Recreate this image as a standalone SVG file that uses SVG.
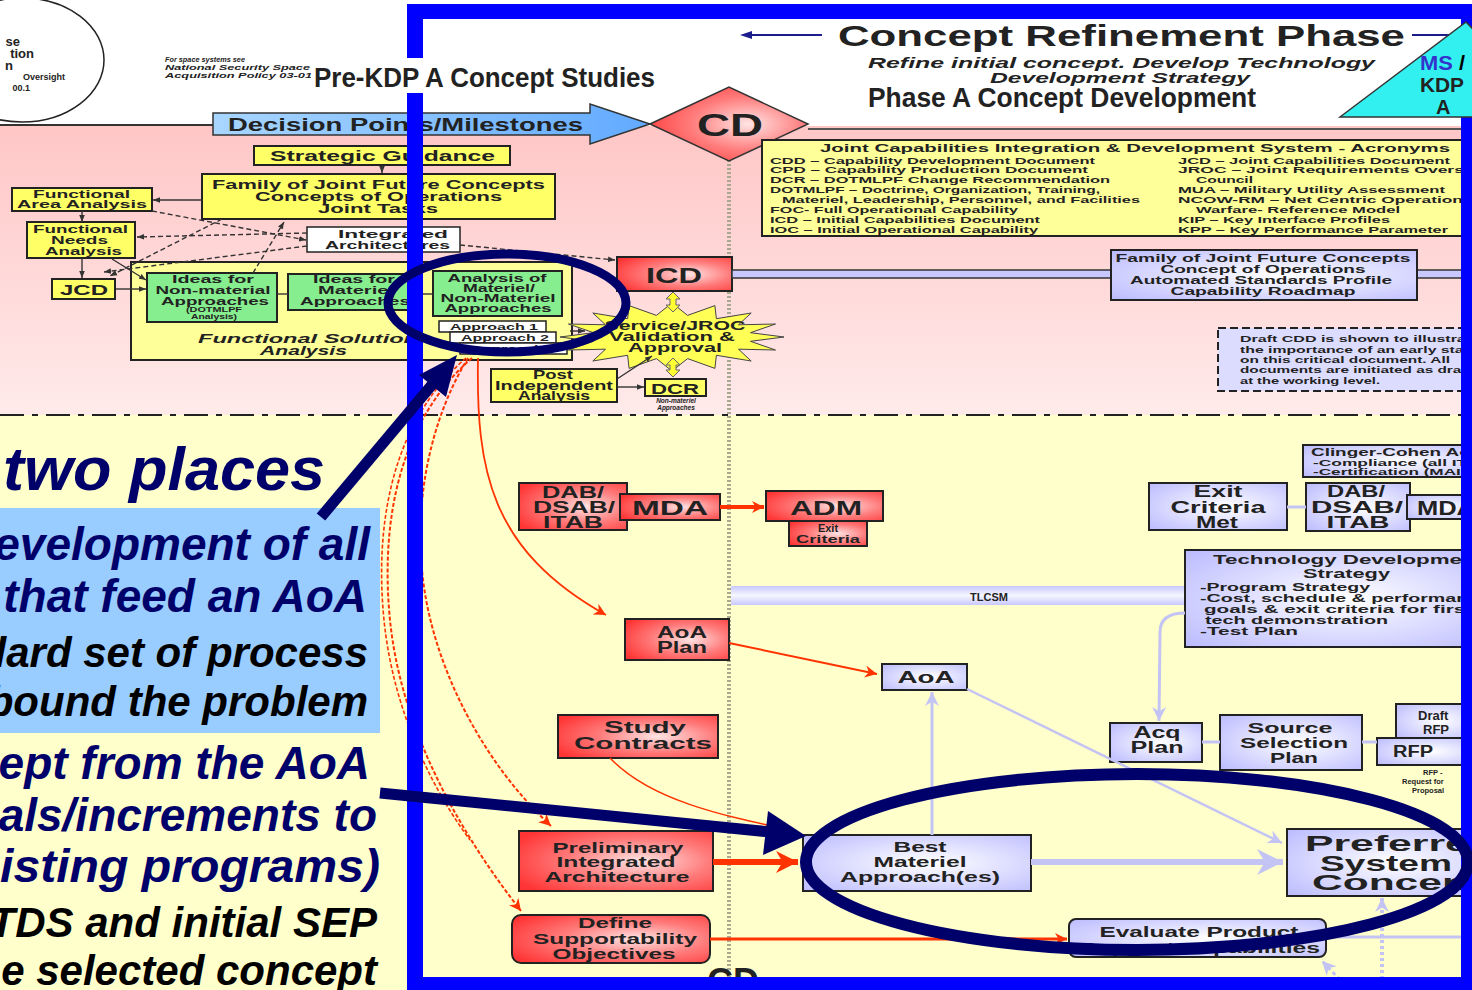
<svg xmlns="http://www.w3.org/2000/svg" width="1472" height="990" viewBox="0 0 1472 990">
<defs>
  <linearGradient id="pinkBg" x1="0" y1="0" x2="0" y2="1">
    <stop offset="0" stop-color="#ffc6c6"/>
    <stop offset="1" stop-color="#ffeaea"/>
  </linearGradient>
  <radialGradient id="redFill" cx="0.62" cy="0.5" r="0.72">
    <stop offset="0" stop-color="#ffe4e4"/>
    <stop offset="0.5" stop-color="#ff7c7c"/>
    <stop offset="1" stop-color="#ff3434"/>
  </radialGradient>
  <radialGradient id="lavFill" cx="0.55" cy="0.5" r="0.72">
    <stop offset="0" stop-color="#ffffff"/>
    <stop offset="1" stop-color="#bcbcff"/>
  </radialGradient>
  <linearGradient id="dpFill" x1="0" y1="0" x2="1" y2="0">
    <stop offset="0" stop-color="#a8d6ff"/>
    <stop offset="1" stop-color="#62aaff"/>
  </linearGradient>
  <linearGradient id="barFill" x1="0" y1="0" x2="0" y2="1">
    <stop offset="0" stop-color="#c8c8ff"/>
    <stop offset="0.5" stop-color="#f6f6ff"/>
    <stop offset="1" stop-color="#c8c8ff"/>
  </linearGradient>
  <marker id="mkBlack" viewBox="0 0 10 10" refX="10" refY="5" markerWidth="7" markerHeight="7" markerUnits="userSpaceOnUse" orient="auto">
    <path d="M0,1 L10,5 L0,9 z" fill="#333"/>
  </marker>
  <marker id="mkRed" viewBox="0 0 10 10" refX="10" refY="5" markerWidth="12" markerHeight="12" markerUnits="userSpaceOnUse" orient="auto">
    <path d="M0,0 L10,5 L0,10 L3,5 z" fill="#ff3300"/>
  </marker>
  <marker id="mkRedBig" viewBox="0 0 10 10" refX="10" refY="5" markerWidth="22" markerHeight="22" markerUnits="userSpaceOnUse" orient="auto">
    <path d="M0,0 L10,5 L0,10 L3,5 z" fill="#ff3300"/>
  </marker>
  <marker id="mkLav" viewBox="0 0 10 10" refX="10" refY="5" markerWidth="14" markerHeight="14" markerUnits="userSpaceOnUse" orient="auto">
    <path d="M0,0 L10,5 L0,10 L3,5 z" fill="#c4c4f4"/>
  </marker>
  <marker id="mkLavBig" viewBox="0 0 10 10" refX="10" refY="5" markerWidth="26" markerHeight="26" markerUnits="userSpaceOnUse" orient="auto">
    <path d="M0,0 L10,5 L0,10 L3,5 z" fill="#c4c4f4"/>
  </marker>
</defs>
<style>
  .t{font-family:"Liberation Sans",Arial,sans-serif;font-weight:bold;fill:#222}
  .m{text-anchor:middle}
  .e{text-anchor:end}
  .i{font-style:italic}
  .yb{fill:#ffff66;stroke:#222;stroke-width:2}
  .gb{fill:#86ee8e;stroke:#222;stroke-width:2}
  .rb{fill:url(#redFill);stroke:#222;stroke-width:2}
  .lb{fill:url(#lavFill);stroke:#222;stroke-width:2}
  .wb{fill:#fff;stroke:#222;stroke-width:1.5}
  .dk{fill:none;stroke:#333;stroke-width:1.4}
  .dash{stroke-dasharray:5 3}
  .red{fill:none;stroke:#ff3300}
  .lav{fill:none;stroke:#c4c4f4}
  .big{font-family:"Liberation Sans",Arial,sans-serif;font-weight:bold;font-style:italic;text-anchor:end}
  .navy{fill:#00006a}
  .blk{fill:#000}
  .frame{fill:#0000ff}
</style>

<!-- backgrounds -->
<rect x="0" y="0" width="1472" height="990" fill="#ffffff"/>
<rect x="0" y="126" width="1472" height="289" fill="url(#pinkBg)"/>
<rect x="0" y="415" width="1472" height="575" fill="#ffffcc"/>
<line x1="0" y1="125" x2="213" y2="125" stroke="#333" stroke-width="2"/>
<line x1="808" y1="129" x2="1462" y2="129" stroke="#555" stroke-width="2"/>
<line x1="0" y1="415" x2="1462" y2="415" stroke="#222" stroke-width="2" stroke-dasharray="24 8 6 8"/>
<line x1="729" y1="160" x2="729" y2="980" stroke="#a8a890" stroke-width="4" stroke-dasharray="2 2"/>

<!-- oversight seal, top left -->
<g id="oversight">
  <ellipse cx="22" cy="60" rx="82" ry="62" fill="none" stroke="#222" stroke-width="1.5"/>
  <text class="t e" x="20" y="46" font-size="13">se</text>
  <text class="t e" x="34" y="58" font-size="13">tion</text>
  <text class="t e" x="13" y="70" font-size="13">n</text>
  <text class="t e" x="65" y="80" font-size="9">Oversight</text>
  <text class="t e" x="30" y="91" font-size="9">00.1</text>
</g>
<g id="space-note">
  <text class="t i" x="165" y="62" font-size="8" textLength="80" lengthAdjust="spacingAndGlyphs">For space systems see</text>
  <text class="t i" x="165" y="70" font-size="8" textLength="145" lengthAdjust="spacingAndGlyphs">National Security Space</text>
  <text class="t i" x="165" y="78" font-size="8" textLength="147" lengthAdjust="spacingAndGlyphs">Acquisition Policy 03-01</text>
</g>

<!-- decision points banner and CD milestone -->
<g id="decision-points">
  <polygon points="213,113 590,113 590,104 650,124 590,144 590,135 213,135" fill="url(#dpFill)" stroke="#333" stroke-width="1.5"/>
  <text class="t" x="228" y="131" font-size="18" textLength="355" lengthAdjust="spacingAndGlyphs" fill="#1a1a40">Decision Points/Milestones</text>
</g>
<g id="cd-top">
  <polygon points="650,124 729,87 808,124 729,161" fill="url(#redFill)" stroke="#333" stroke-width="1.5"/>
  <text class="t m" x="730" y="136" font-size="31" textLength="66" lengthAdjust="spacingAndGlyphs">CD</text>
</g>

<!-- pre-KDP nodes -->
<g id="strategic-guidance">
  <rect class="yb" x="254" y="146" width="256" height="19"/>
  <text class="t" x="270" y="161" font-size="15" textLength="225" lengthAdjust="spacingAndGlyphs">Strategic Guidance</text>
</g>
<g id="family-concepts">
  <rect class="yb" x="202" y="174" width="353" height="45"/>
  <text class="t" x="212" y="189" font-size="12" textLength="333" lengthAdjust="spacingAndGlyphs">Family of Joint Future Concepts</text>
  <text class="t" x="255" y="201" font-size="12" textLength="247" lengthAdjust="spacingAndGlyphs">Concepts of Operations</text>
  <text class="t" x="318" y="213" font-size="12" textLength="120" lengthAdjust="spacingAndGlyphs">Joint Tasks</text>
</g>
<g id="faa">
  <rect class="yb" x="12" y="188" width="140" height="23"/>
  <text class="t" x="33" y="198" font-size="11" textLength="97" lengthAdjust="spacingAndGlyphs">Functional</text>
  <text class="t" x="17" y="208" font-size="11" textLength="130" lengthAdjust="spacingAndGlyphs">Area Analysis</text>
</g>
<g id="fna">
  <rect class="yb" x="27" y="222" width="108" height="36"/>
  <text class="t" x="33" y="233" font-size="11" textLength="95" lengthAdjust="spacingAndGlyphs">Functional</text>
  <text class="t" x="51" y="244" font-size="11" textLength="57" lengthAdjust="spacingAndGlyphs">Needs</text>
  <text class="t" x="45" y="255" font-size="11" textLength="77" lengthAdjust="spacingAndGlyphs">Analysis</text>
</g>
<g id="integrated-arch">
  <rect class="wb" x="307" y="227" width="153" height="25"/>
  <text class="t" x="338" y="238" font-size="11" textLength="110" lengthAdjust="spacingAndGlyphs">Integrated</text>
  <text class="t" x="325" y="249" font-size="11" textLength="125" lengthAdjust="spacingAndGlyphs">Architectures</text>
</g>
<g id="jcd">
  <rect class="yb" x="52" y="279" width="63" height="20"/>
  <text class="t" x="60" y="295" font-size="15" textLength="48" lengthAdjust="spacingAndGlyphs">JCD</text>
</g>
<g id="fsa">
  <rect x="131" y="262" width="441" height="98" fill="#ffff99" stroke="#222" stroke-width="2"/>
  <text class="t i" x="198" y="343" font-size="12" textLength="220" lengthAdjust="spacingAndGlyphs">Functional  Solution</text>
  <text class="t i" x="260" y="355" font-size="12" textLength="87" lengthAdjust="spacingAndGlyphs">Analysis</text>
</g>
<g id="ideas-nonmat">
  <rect class="gb" x="147" y="273" width="130" height="49"/>
  <text class="t m" x="213" y="283" font-size="11" textLength="82" lengthAdjust="spacingAndGlyphs">Ideas for</text>
  <text class="t m" x="213" y="294" font-size="11" textLength="115" lengthAdjust="spacingAndGlyphs">Non-material</text>
  <text class="t m" x="215" y="305" font-size="11" textLength="108" lengthAdjust="spacingAndGlyphs">Approaches</text>
  <text class="t m" x="214" y="312" font-size="6.5" textLength="56" lengthAdjust="spacingAndGlyphs">(DOTMLPF</text>
  <text class="t m" x="214" y="319" font-size="6.5" textLength="46" lengthAdjust="spacingAndGlyphs">Analysis)</text>
</g>
<g id="ideas-mat">
  <rect class="gb" x="288" y="274" width="128" height="36"/>
  <text class="t m" x="354" y="283" font-size="11" textLength="82" lengthAdjust="spacingAndGlyphs">Ideas for</text>
  <text class="t m" x="356" y="294" font-size="11" textLength="76" lengthAdjust="spacingAndGlyphs">Materiel</text>
  <text class="t m" x="355" y="305" font-size="11" textLength="110" lengthAdjust="spacingAndGlyphs">Approaches</text>
</g>
<g id="analysis">
  <rect class="gb" x="433" y="271" width="129" height="45"/>
  <text class="t m" x="497" y="282" font-size="11" textLength="99" lengthAdjust="spacingAndGlyphs">Analysis of</text>
  <text class="t m" x="499" y="292" font-size="11" textLength="72" lengthAdjust="spacingAndGlyphs">Materiel/</text>
  <text class="t m" x="498" y="302" font-size="11" textLength="115" lengthAdjust="spacingAndGlyphs">Non-Materiel</text>
  <text class="t m" x="498" y="312" font-size="11" textLength="107" lengthAdjust="spacingAndGlyphs">Approaches</text>
</g>
<g id="approaches">
  <rect class="wb" x="439" y="321" width="107" height="11"/>
  <text class="t" x="450" y="330" font-size="9" textLength="88" lengthAdjust="spacingAndGlyphs">Approach 1</text>
  <rect class="wb" x="450" y="332" width="106" height="11"/>
  <text class="t" x="461" y="341" font-size="9" textLength="88" lengthAdjust="spacingAndGlyphs">Approach 2</text>
  <rect class="wb" x="460" y="343" width="107" height="11"/>
  <text class="t" x="471" y="352" font-size="9" textLength="88" lengthAdjust="spacingAndGlyphs">Approach N</text>
</g>
<g id="icd">
  <rect class="rb" x="617" y="257" width="115" height="34"/>
  <text class="t m" x="674" y="283" font-size="22" textLength="56" lengthAdjust="spacingAndGlyphs">ICD</text>
</g>
<g id="validation">
  <polygon points="784,337 750.5,341.3 775.5,350 738.5,349.2 751.2,361 716.4,355.3 714.9,368.4 687.6,358.6 672,371 656.4,358.6 629.1,368.4 627.6,355.3 592.8,361 605.5,349.2 568.5,350 593.5,341.3 560,337 593.5,332.7 568.5,324 605.5,324.8 592.8,313 627.6,318.7 629.1,305.6 656.4,315.4 672,303 687.6,315.4 714.9,305.6 716.4,318.7 751.2,313 738.5,324.8 775.5,324 750.5,332.7" fill="#ffff55" stroke="#444" stroke-width="1"/>
  <text class="t m" x="675" y="330" font-size="13" textLength="141" lengthAdjust="spacingAndGlyphs">Service/JROC</text>
  <text class="t m" x="672" y="341" font-size="13" textLength="126" lengthAdjust="spacingAndGlyphs">Validation &amp;</text>
  <text class="t m" x="675" y="352" font-size="13" textLength="94" lengthAdjust="spacingAndGlyphs">Approval</text>
</g>
<g id="post-analysis">
  <rect class="yb" x="491" y="369" width="126" height="33"/>
  <text class="t m" x="553" y="379" font-size="12" textLength="40" lengthAdjust="spacingAndGlyphs">Post</text>
  <text class="t m" x="554" y="390" font-size="12" textLength="118" lengthAdjust="spacingAndGlyphs">Independent</text>
  <text class="t m" x="554" y="400" font-size="12" textLength="72" lengthAdjust="spacingAndGlyphs">Analysis</text>
</g>
<g id="dcr">
  <rect class="yb" x="645" y="379" width="61" height="17"/>
  <text class="t m" x="675" y="394" font-size="15" textLength="48" lengthAdjust="spacingAndGlyphs">DCR</text>
  <text class="t i m" x="676" y="403" font-size="6.5">Non-materiel</text>
  <text class="t i m" x="676" y="410" font-size="6.5">Approaches</text>
</g>

<!-- acronym list -->
<g id="acronyms">
  <rect x="762" y="140" width="710" height="96" fill="#ffff99" stroke="#222" stroke-width="2"/>
  <text class="t" x="820" y="152" font-size="11" textLength="630" lengthAdjust="spacingAndGlyphs">Joint Capabilities Integration &amp; Development System - Acronyms</text>
  <g font-size="9">
    <text class="t" x="770" y="164" textLength="325" lengthAdjust="spacingAndGlyphs">CDD – Capability Development Document</text>
    <text class="t" x="770" y="173" textLength="318" lengthAdjust="spacingAndGlyphs">CPD – Capability Production Document</text>
    <text class="t" x="770" y="183" textLength="340" lengthAdjust="spacingAndGlyphs">DCR – DOTMLPF Change Recommendation</text>
    <text class="t" x="770" y="193" textLength="330" lengthAdjust="spacingAndGlyphs">DOTMLPF – Doctrine, Organization, Training,</text>
    <text class="t" x="782" y="203" textLength="358" lengthAdjust="spacingAndGlyphs">Materiel, Leadership, Personnel, and Facilities</text>
    <text class="t" x="770" y="213" textLength="248" lengthAdjust="spacingAndGlyphs">FOC- Full Operational Capability</text>
    <text class="t" x="770" y="223" textLength="270" lengthAdjust="spacingAndGlyphs">ICD – Initial Capabilities Document</text>
    <text class="t" x="770" y="233" textLength="268" lengthAdjust="spacingAndGlyphs">IOC – Initial Operational Capability</text>
    <text class="t" x="1178" y="164" textLength="272" lengthAdjust="spacingAndGlyphs">JCD – Joint Capabilities Document</text>
    <text class="t" x="1178" y="173" textLength="318" lengthAdjust="spacingAndGlyphs">JROC – Joint Requirements Oversight</text>
    <text class="t" x="1196" y="183" textLength="57" lengthAdjust="spacingAndGlyphs">Council</text>
    <text class="t" x="1178" y="193" textLength="267" lengthAdjust="spacingAndGlyphs">MUA – Military Utility Assessment</text>
    <text class="t" x="1178" y="203" textLength="330" lengthAdjust="spacingAndGlyphs">NCOW-RM – Net Centric Operations and</text>
    <text class="t" x="1196" y="213" textLength="204" lengthAdjust="spacingAndGlyphs">Warfare- Reference Model</text>
    <text class="t" x="1178" y="223" textLength="212" lengthAdjust="spacingAndGlyphs">KIP – Key Interface Profiles</text>
    <text class="t" x="1178" y="233" textLength="270" lengthAdjust="spacingAndGlyphs">KPP – Key Performance Parameter</text>
  </g>
</g>

<!-- ICD bar and family-of-concepts box -->
<rect x="732" y="270" width="740" height="8" fill="#c8c8ff" stroke="#333" stroke-width="1.5"/>
<g id="family-roadmap">
  <rect class="lb" x="1111" y="250" width="306" height="50"/>
  <text class="t m" x="1263" y="262" font-size="11" textLength="295" lengthAdjust="spacingAndGlyphs">Family of Joint Future Concepts</text>
  <text class="t m" x="1263" y="273" font-size="11" textLength="205" lengthAdjust="spacingAndGlyphs">Concept of Operations</text>
  <text class="t m" x="1261" y="284" font-size="11" textLength="262" lengthAdjust="spacingAndGlyphs">Automated Standards Profile</text>
  <text class="t m" x="1263" y="295" font-size="11" textLength="185" lengthAdjust="spacingAndGlyphs">Capability Roadmap</text>
</g>
<g id="draft-cdd-note">
  <rect x="1218" y="328" width="260" height="63" fill="#dcdcff" stroke="#222" stroke-width="2" stroke-dasharray="8 4"/>
  <g font-size="9.5">
    <text class="t" x="1240" y="342" textLength="240" lengthAdjust="spacingAndGlyphs">Draft CDD is shown to illustrate</text>
    <text class="t" x="1240" y="353" textLength="235" lengthAdjust="spacingAndGlyphs">the importance of an early start</text>
    <text class="t" x="1240" y="363" textLength="210" lengthAdjust="spacingAndGlyphs">on this critical document.  All</text>
    <text class="t" x="1240" y="373" textLength="240" lengthAdjust="spacingAndGlyphs">documents are initiated as drafts</text>
    <text class="t" x="1240" y="384" textLength="140" lengthAdjust="spacingAndGlyphs">at the working level.</text>
  </g>
</g>

<!-- lower nodes -->
<g id="dab-left">
  <rect class="rb" x="519" y="483" width="108" height="47"/>
  <text class="t m" x="573" y="498" font-size="16" textLength="62" lengthAdjust="spacingAndGlyphs">DAB/</text>
  <text class="t m" x="574" y="513" font-size="16" textLength="82" lengthAdjust="spacingAndGlyphs">DSAB/</text>
  <text class="t m" x="573" y="528" font-size="16" textLength="60" lengthAdjust="spacingAndGlyphs">ITAB</text>
</g>
<g id="mda-left">
  <rect class="rb" x="620" y="494" width="100" height="26"/>
  <text class="t m" x="670" y="515" font-size="20" textLength="76" lengthAdjust="spacingAndGlyphs">MDA</text>
</g>
<g id="adm">
  <rect class="rb" x="766" y="491" width="117" height="30"/>
  <text class="t m" x="826" y="515" font-size="20" textLength="72" lengthAdjust="spacingAndGlyphs">ADM</text>
  <rect class="rb" x="789" y="521" width="78" height="25"/>
  <text class="t m" x="828" y="532" font-size="11">Exit</text>
  <text class="t m" x="828" y="543" font-size="11" textLength="64" lengthAdjust="spacingAndGlyphs">Criteria</text>
</g>
<g id="tlcsm">
  <rect x="731" y="586" width="454" height="19" fill="url(#barFill)"/>
  <text class="t" x="970" y="601" font-size="11" fill="#333">TLCSM</text>
</g>
<g id="aoa-plan">
  <rect class="rb" x="625" y="619" width="104" height="41"/>
  <text class="t m" x="682" y="638" font-size="16" textLength="50" lengthAdjust="spacingAndGlyphs">AoA</text>
  <text class="t m" x="682" y="653" font-size="16" textLength="50" lengthAdjust="spacingAndGlyphs">Plan</text>
</g>
<g id="aoa">
  <rect class="lb" x="882" y="664" width="85" height="26"/>
  <text class="t m" x="926" y="683" font-size="16" textLength="57" lengthAdjust="spacingAndGlyphs">AoA</text>
</g>
<g id="study-contracts">
  <rect class="rb" x="558" y="715" width="160" height="43"/>
  <text class="t m" x="645" y="733" font-size="17" textLength="82" lengthAdjust="spacingAndGlyphs">Study</text>
  <text class="t m" x="643" y="749" font-size="17" textLength="138" lengthAdjust="spacingAndGlyphs">Contracts</text>
</g>
<g id="prelim-arch">
  <rect class="rb" x="519" y="831" width="194" height="60"/>
  <text class="t m" x="618" y="853" font-size="15" textLength="131" lengthAdjust="spacingAndGlyphs">Preliminary</text>
  <text class="t m" x="616" y="867" font-size="15" textLength="119" lengthAdjust="spacingAndGlyphs">Integrated</text>
  <text class="t m" x="617" y="882" font-size="15" textLength="145" lengthAdjust="spacingAndGlyphs">Architecture</text>
</g>
<g id="define-support">
  <rect class="rb" x="512" y="915" width="198" height="48" rx="9"/>
  <text class="t m" x="615" y="928" font-size="15" textLength="74" lengthAdjust="spacingAndGlyphs">Define</text>
  <text class="t m" x="615" y="944" font-size="15" textLength="164" lengthAdjust="spacingAndGlyphs">Supportability</text>
  <text class="t m" x="614" y="959" font-size="15" textLength="123" lengthAdjust="spacingAndGlyphs">Objectives</text>
</g>
<g id="best-materiel">
  <rect class="lb" x="803" y="835" width="228" height="56"/>
  <text class="t m" x="920" y="852" font-size="15" textLength="53" lengthAdjust="spacingAndGlyphs">Best</text>
  <text class="t m" x="920" y="867" font-size="15" textLength="93" lengthAdjust="spacingAndGlyphs">Materiel</text>
  <text class="t m" x="920" y="882" font-size="15" textLength="160" lengthAdjust="spacingAndGlyphs">Approach(es)</text>
</g>
<g id="preferred">
  <rect class="lb" x="1287" y="829" width="195" height="67"/>
  <text class="t" x="1305" y="851" font-size="22" textLength="190" lengthAdjust="spacingAndGlyphs">Preferred</text>
  <text class="t" x="1320" y="871" font-size="22" textLength="132" lengthAdjust="spacingAndGlyphs">System</text>
  <text class="t" x="1312" y="890" font-size="22" textLength="170" lengthAdjust="spacingAndGlyphs">Concept</text>
</g>
<g id="evaluate-support">
  <rect class="lb" x="1069" y="919" width="257" height="38" rx="7"/>
  <text class="t m" x="1199" y="937" font-size="15" textLength="199" lengthAdjust="spacingAndGlyphs">Evaluate Product</text>
  <text class="t m" x="1200" y="953" font-size="15" textLength="240" lengthAdjust="spacingAndGlyphs">Support Capabilities</text>
</g>
<g id="acq-plan">
  <rect class="lb" x="1110" y="723" width="92" height="39"/>
  <text class="t m" x="1157" y="738" font-size="16" textLength="47" lengthAdjust="spacingAndGlyphs">Acq</text>
  <text class="t m" x="1157" y="753" font-size="16" textLength="53" lengthAdjust="spacingAndGlyphs">Plan</text>
</g>
<g id="source-selection">
  <rect class="lb" x="1220" y="715" width="142" height="55"/>
  <text class="t m" x="1290" y="733" font-size="15" textLength="85" lengthAdjust="spacingAndGlyphs">Source</text>
  <text class="t m" x="1294" y="748" font-size="15" textLength="108" lengthAdjust="spacingAndGlyphs">Selection</text>
  <text class="t m" x="1294" y="763" font-size="15" textLength="48" lengthAdjust="spacingAndGlyphs">Plan</text>
</g>
<g id="draft-rfp">
  <rect class="lb" x="1396" y="704" width="80" height="34"/>
  <text class="t" x="1418" y="720" font-size="13">Draft</text>
  <text class="t" x="1423" y="734" font-size="13">RFP</text>
</g>
<g id="rfp">
  <rect class="lb" x="1377" y="738" width="99" height="27"/>
  <text class="t" x="1393" y="757" font-size="16" textLength="40" lengthAdjust="spacingAndGlyphs">RFP</text>
  <text class="t" x="1423" y="775" font-size="7.5">RFP -</text>
  <text class="t" x="1402" y="784" font-size="7.5">Request for</text>
  <text class="t" x="1412" y="793" font-size="7.5">Proposal</text>
</g>
<g id="exit-met">
  <rect class="lb" x="1149" y="483" width="138" height="47"/>
  <text class="t m" x="1218" y="497" font-size="17" textLength="49" lengthAdjust="spacingAndGlyphs">Exit</text>
  <text class="t m" x="1218" y="513" font-size="17" textLength="95" lengthAdjust="spacingAndGlyphs">Criteria</text>
  <text class="t m" x="1217" y="528" font-size="17" textLength="42" lengthAdjust="spacingAndGlyphs">Met</text>
</g>
<g id="dab-right">
  <rect class="lb" x="1306" y="483" width="104" height="48"/>
  <text class="t m" x="1356" y="497" font-size="17" textLength="58" lengthAdjust="spacingAndGlyphs">DAB/</text>
  <text class="t m" x="1357" y="513" font-size="17" textLength="92" lengthAdjust="spacingAndGlyphs">DSAB/</text>
  <text class="t m" x="1358" y="528" font-size="17" textLength="63" lengthAdjust="spacingAndGlyphs">ITAB</text>
</g>
<g id="mda-right">
  <rect class="lb" x="1407" y="495" width="70" height="24"/>
  <text class="t" x="1417" y="515" font-size="20" textLength="58" lengthAdjust="spacingAndGlyphs">MDA</text>
</g>
<g id="clinger-cohen">
  <rect class="lb" x="1303" y="445" width="175" height="32"/>
  <text class="t" x="1311" y="456" font-size="11" textLength="165" lengthAdjust="spacingAndGlyphs">Clinger-Cohen Act</text>
  <text class="t" x="1313" y="466" font-size="8.5" textLength="160" lengthAdjust="spacingAndGlyphs">-Compliance (all IT)</text>
  <text class="t" x="1313" y="475" font-size="8.5" textLength="165" lengthAdjust="spacingAndGlyphs">-Certification (MAIS)</text>
</g>
<g id="tds">
  <rect class="lb" x="1185" y="550" width="292" height="97"/>
  <text class="t" x="1213" y="564" font-size="12.5" textLength="270" lengthAdjust="spacingAndGlyphs">Technology Development</text>
  <text class="t" x="1303" y="578" font-size="12.5" textLength="87" lengthAdjust="spacingAndGlyphs">Strategy</text>
  <text class="t" x="1200" y="591" font-size="11" textLength="170" lengthAdjust="spacingAndGlyphs">-Program Strategy</text>
  <text class="t" x="1200" y="602" font-size="11" textLength="290" lengthAdjust="spacingAndGlyphs">-Cost, schedule &amp; performance</text>
  <text class="t" x="1204" y="613" font-size="11" textLength="268" lengthAdjust="spacingAndGlyphs">goals &amp; exit criteria for first</text>
  <text class="t" x="1205" y="624" font-size="11" textLength="183" lengthAdjust="spacingAndGlyphs">tech demonstration</text>
  <text class="t" x="1200" y="635" font-size="11" textLength="98" lengthAdjust="spacingAndGlyphs">-Test Plan</text>
</g>

<!-- connectors -->
<g id="connectors">
  <line class="dk" x1="382" y1="165" x2="382" y2="173" marker-end="url(#mkBlack)"/>
  <line class="dk" x1="202" y1="200" x2="153" y2="200" marker-end="url(#mkBlack)"/>
  <line class="dk" x1="82" y1="211" x2="82" y2="222" marker-end="url(#mkBlack)"/>
  <line class="dk" x1="82" y1="258" x2="82" y2="278" marker-end="url(#mkBlack)"/>
  <line class="dk" x1="116" y1="289" x2="146" y2="289" marker-end="url(#mkBlack)"/>
  <line class="dk" x1="277" y1="294" x2="288" y2="294"/>
  <line class="dk" x1="416" y1="294" x2="433" y2="294"/>
  <line class="dk dash" x1="152" y1="211" x2="306" y2="240" marker-end="url(#mkBlack)"/>
  <line class="dk dash" x1="307" y1="233" x2="137" y2="237" marker-end="url(#mkBlack)"/>
  <line class="dk dash" x1="307" y1="246" x2="104" y2="272" marker-end="url(#mkBlack)"/>
  <line class="dk dash" x1="222" y1="219" x2="110" y2="276" marker-end="url(#mkBlack)"/>
  <line class="dk dash" x1="253" y1="273" x2="284" y2="222" marker-end="url(#mkBlack)"/>
  <line class="dk" x1="112" y1="259" x2="146" y2="280" marker-end="url(#mkBlack)"/>
  <line class="dk dash" x1="460" y1="245" x2="615" y2="260" marker-end="url(#mkBlack)"/>
  <line class="dk" x1="617" y1="387" x2="644" y2="387" marker-end="url(#mkBlack)"/>
  <line class="dk" x1="617" y1="379" x2="652" y2="356" marker-end="url(#mkBlack)"/>
  <line class="dk" x1="570" y1="331" x2="585" y2="331" marker-end="url(#mkBlack)"/>
  <polygon points="673,292 680,299 676,299 676,305 680,305 673,312 666,305 670,305 670,299 666,299" fill="#ffff33" stroke="#666" stroke-width="1"/>
  <polygon points="673,358 680,365 676,365 676,370 680,370 673,377 666,370 670,370 670,365 666,365" fill="#ffff33" stroke="#666" stroke-width="1"/>

  <path class="red" stroke-width="1.8" d="M478,358 C476,470 490,550 606,615" marker-end="url(#mkRed)"/>
  <path class="red" stroke-width="2" stroke-dasharray="4 2" d="M468,358 C430,420 415,500 422,570 C430,660 480,760 551,826" marker-end="url(#mkRed)"/>
  <path class="red" stroke-width="2" stroke-dasharray="4 2" d="M472,358 C400,420 380,520 390,620 C400,720 450,820 521,911" marker-end="url(#mkRed)"/>
  <path class="red" stroke-width="1.6" stroke-dasharray="4 2" d="M466,358 C394,420 374,520 384,620 C394,720 440,800 470,840"/>
  <path class="red" stroke-width="1.5" d="M610,758 C650,800 720,815 790,830"/>
  <line class="red" stroke-width="4" x1="720" y1="507" x2="764" y2="507" marker-end="url(#mkRed)"/>
  <line class="red" stroke-width="2" x1="729" y1="643" x2="877" y2="674" marker-end="url(#mkRed)"/>
  <line class="red" stroke-width="6" x1="713" y1="862" x2="798" y2="862" marker-end="url(#mkRedBig)"/>
  <line class="red" stroke-width="3" x1="710" y1="939" x2="1067" y2="939" marker-end="url(#mkRed)"/>

  <line class="lav" stroke-width="6" x1="1031" y1="862" x2="1283" y2="862" marker-end="url(#mkLavBig)"/>
  <line class="lav" stroke-width="3" x1="932" y1="835" x2="932" y2="692" marker-end="url(#mkLav)"/>
  <line class="lav" stroke-width="2.5" x1="967" y1="689" x2="1282" y2="843" marker-end="url(#mkLav)"/>
  <path class="lav" stroke-width="3" d="M1185,613 Q1160,613 1160,632 L1159,721" marker-end="url(#mkLav)"/>
  <line class="lav" stroke-width="3" x1="1202" y1="742" x2="1220" y2="742"/>
  <line class="lav" stroke-width="3" x1="1362" y1="742" x2="1377" y2="742"/>
  <line class="lav" stroke-width="3" x1="1326" y1="937" x2="1462" y2="937"/>
  <line class="lav" stroke-width="3" x1="1287" y1="507" x2="1306" y2="507"/>
  <line class="lav" stroke-width="4" stroke-dasharray="3 3" x1="1382" y1="985" x2="1382" y2="898" marker-end="url(#mkLav)"/>
  <line class="lav" stroke-width="3" stroke-dasharray="4 3" x1="1345" y1="985" x2="1322" y2="961" marker-end="url(#mkLav)"/>
</g>

<!-- milestone label cut by frame -->
<text class="t m" x="733" y="994" font-size="36" fill="#cc3311">CD</text>

<!-- phase header -->
<g id="phase-header">
  <line x1="822" y1="35" x2="746" y2="35" stroke="#1c1c8c" stroke-width="2"/>
  <path d="M740,35 L752,31 L752,39 z" fill="#1c1c8c"/>
  <text class="t" x="838" y="46" font-size="29" textLength="567" lengthAdjust="spacingAndGlyphs" fill="#1c1c8c">Concept Refinement Phase</text>
  <line x1="1412" y1="35" x2="1450" y2="35" stroke="#1c1c8c" stroke-width="2"/>
  <text class="t i" x="868" y="68" font-size="14" textLength="507" lengthAdjust="spacingAndGlyphs">Refine initial concept.  Develop Technology</text>
  <text class="t i" x="990" y="83" font-size="14" textLength="260" lengthAdjust="spacingAndGlyphs">Development Strategy</text>
  <text class="t" x="868" y="107" font-size="28" textLength="388" lengthAdjust="spacingAndGlyphs" fill="#000">Phase A Concept Development</text>
</g>

<!-- blue frame -->
<g id="frame">
  <rect class="frame" x="407" y="4" width="16" height="986"/>
  <rect class="frame" x="407" y="4" width="1065" height="15"/>
  <rect class="frame" x="1461" y="4" width="11" height="986"/>
  <rect class="frame" x="407" y="977" width="1065" height="13"/>
</g>

<!-- pre-KDP caption -->
<g id="pre-kdp">
  <rect x="311" y="58" width="348" height="35" fill="#fff"/>
  <text class="t" x="314" y="87" font-size="27" textLength="341" lengthAdjust="spacingAndGlyphs" fill="#000">Pre-KDP A Concept Studies</text>
</g>

<!-- KDP A milestone -->
<g id="kdp-a">
  <polygon points="1340,117 1466,22 1560,117" fill="#33f0f0" stroke="#333" stroke-width="1.5"/>
  <text class="t" x="1420" y="70" font-size="20" textLength="45" lengthAdjust="spacingAndGlyphs"><tspan fill="#3333cc">MS</tspan><tspan fill="#000"> /</tspan></text>
  <text class="t" x="1420" y="92" font-size="20" textLength="44" lengthAdjust="spacingAndGlyphs" fill="#000">KDP</text>
  <text class="t" x="1436" y="114" font-size="20" fill="#000">A</text>
</g>

<!-- callout text on the left -->
<g id="callout">
  <text class="big navy" x="325" y="490" font-size="62" textLength="322" lengthAdjust="spacingAndGlyphs">two places</text>
  <rect x="0" y="508" width="380" height="225" fill="#99ccff"/>
  <text class="big navy" x="370" y="560" font-size="46">evelopment of all</text>
  <text class="big navy" x="367" y="612" font-size="46">that feed an AoA</text>
  <text class="big blk" x="368" y="667" font-size="42">lard set of process</text>
  <text class="big blk" x="368" y="716" font-size="42">bound the problem</text>
  <text class="big navy" x="370" y="779" font-size="46">ept from the AoA</text>
  <text class="big navy" x="377" y="831" font-size="46">als/increments to</text>
  <text class="big navy" x="380" y="882" font-size="46" textLength="380" lengthAdjust="spacingAndGlyphs">isting programs)</text>
  <text class="big blk" x="377" y="937" font-size="42">TDS and initial SEP</text>
  <text class="big blk" x="377" y="985" font-size="42">e selected concept</text>
</g>

<!-- emphasis rings and pointers -->
<g id="emphasis" fill="none" stroke="#00006a">
  <ellipse cx="507" cy="303" rx="119" ry="49" stroke-width="9"/>
  <ellipse cx="1137" cy="862" rx="331" ry="88" stroke-width="12"/>
  <line x1="321" y1="517" x2="436" y2="380" stroke-width="11"/>
  <polygon points="457,355 446,397 419,375" fill="#00006a" stroke="none"/>
  <line x1="380" y1="793" x2="770" y2="832" stroke-width="11"/>
  <polygon points="806,836 763,855 768,811" fill="#00006a" stroke="none"/>
</g>
</svg>
